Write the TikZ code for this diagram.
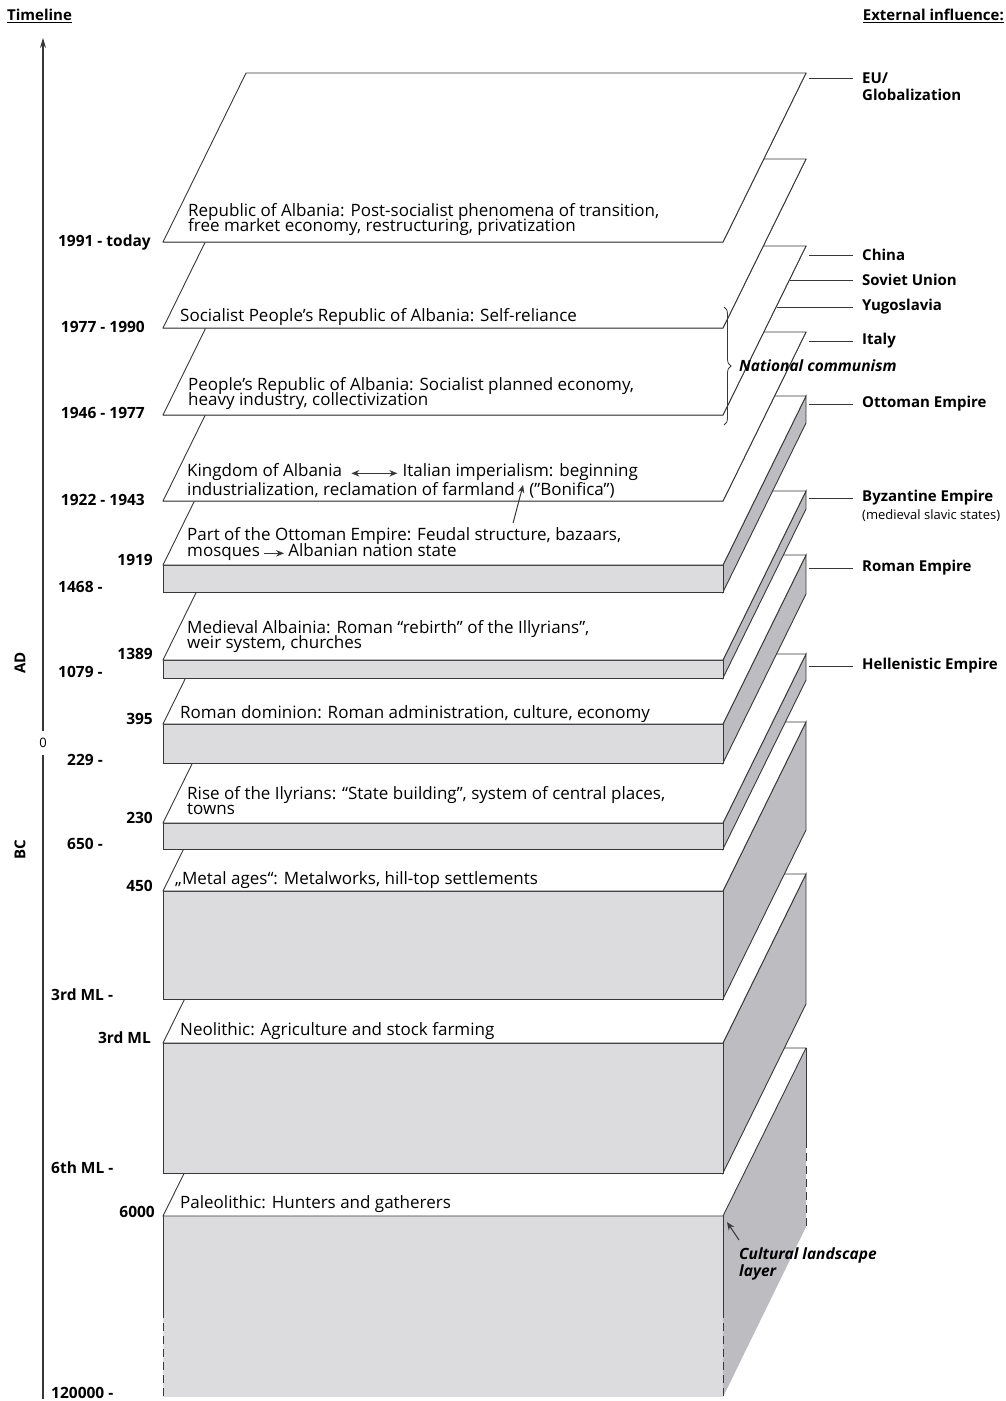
\documentclass[tikz,border=0pt]{standalone}
\usepackage{fontspec}
\setmainfont{Open Sans}
\usetikzlibrary{calc,arrows.meta,decorations.pathreplacing}
\definecolor{linegray}{HTML}{383838}
\definecolor{frontgray}{HTML}{DCDCDE}
\definecolor{sidegray}{HTML}{BDBDC1}
\newcommand{\tightleading}{\lineskiplimit=-\maxdimen\relax}

\begin{document}
\begin{tikzpicture}[x=1pt,y=-1pt]
    % Define the styles for the layers, labels and arrows
    \tikzstyle{edge}=[draw=linegray, line width=0.9pt]
    \tikzstyle{topface}=[edge, fill=white]
    \tikzstyle{frontface}=[edge, fill=frontgray]
    \tikzstyle{sideface}=[edge, fill=sidegray]
    \tikzstyle{cut}=[edge, dash pattern=on 8pt off 5pt]
    \tikzstyle{period}=[anchor=base west, inner sep=0pt, align=left, font=\fontsize{17}{15}\selectfont\tightleading]
    \tikzstyle{year}=[anchor=east, inner sep=0pt, font=\bfseries\fontsize{15.5}{16}\selectfont]
    \tikzstyle{yearstart}=[year, anchor=west]
    \tikzstyle{influence}=[anchor=west, inner xsep=9pt, inner ysep=0pt, font=\bfseries\fontsize{15}{16}\selectfont]
    \tikzstyle{link}=[draw=linegray, line width=0.9pt]
    \tikzstyle{arrow}=[draw=linegray, line width=1pt, ->, >={Stealth[length=8pt,width=6.5pt]}]
    \tikzstyle{remark}=[anchor=base west, inner sep=0pt, align=left, font=\bfseries\itshape\fontsize{15.5}{16.5}\selectfont\tightleading]

    \useasboundingbox (0,0) rectangle (1006,1401);

    % Draw the paleolithic layer, open at the bottom
    \coordinate (paleo-fl) at (163,1216);
    \coordinate (paleo-fr) at (723,1216);
    \coordinate (paleo-br) at (806,1048);
    \coordinate (paleo-bl) at (246,1048);
    \fill[sidegray] (paleo-fr) -- (paleo-br) -- (806,1227) -- (723,1397) -- cycle;
    \fill[frontgray] (paleo-fl) rectangle (723,1397);
    \draw[edge] (806,1140) -- (paleo-br);
    \draw[cut] (806,1140) -- (806,1227);
    \draw[edge] (163,1310) -- (paleo-fl);
    \draw[edge] (723,1310) -- (paleo-fr);
    \draw[cut] (163,1310) -- (163,1397);
    \draw[cut] (723,1310) -- (723,1397);
    \draw[topface] (paleo-fl) -- (paleo-fr) -- (paleo-br) -- (paleo-bl) -- cycle;

    % Draw the other layers from bottom to top
    \foreach \id/\yf/\t in {neo/1043/130, metal/891/108, illyr/823/26, roman/724/39,
        medieval/660/18, ottoman/565/27, kingdom/501/0, peoples/415/0,
        socialist/328/0, republic/242/0} {
        \coordinate (\id-fl) at (163,\yf);
        \coordinate (\id-fr) at (723,\yf);
        \coordinate (\id-br) at (806,\yf-169);
        \coordinate (\id-bl) at (246,\yf-169);
        \path[sideface] (\id-fr) -- (\id-br) -- ++(0,\t) -- ++(-83,169) -- cycle;
        \path[frontface] (\id-fl) rectangle ++(560,\t);
        \path[topface] (\id-fl) -- (\id-fr) -- (\id-br) -- (\id-bl) -- cycle;
    }

    % Texts on the layers
    \node[period] (republic) at (188,231) {Republic of Albania: Post-socialist phenomena of transition,\\free market economy, restructuring, privatization};
    \node[period] (socialist) at (180,321) {Socialist People’s Republic of Albania: Self-reliance};
    \node[period] (peoples) at (188,405) {People’s Republic of Albania: Socialist planned economy,\\heavy industry, collectivization};
    \node[period] (kingdom-a) at (187,476) {Kingdom of Albania};
    \node[period] (kingdom-b) at ([xshift=60pt]kingdom-a.base east) {Italian imperialism: beginning};
    \node[period] (kingdom-c) at (187,495) {industrialization, reclamation of farmland};
    \node[period] (bonifica) at ([xshift=14pt]kingdom-c.base east) {(”Bonifica”)};
    \node[period] (ottoman-a) at (187,540) {Part of the Ottoman Empire: Feudal structure, bazaars,};
    \node[period] (ottoman-b) at (187,556) {mosques};
    \node[period] (ottoman-c) at ([xshift=28pt]ottoman-b.base east) {Albanian nation state};
    \node[period] (medieval) at (187,648) {Medieval Albainia: Roman “rebirth” of the Illyrians”,\\weir system, churches};
    \node[period] (roman) at (180,718) {Roman dominion: Roman administration, culture, economy};
    \node[period] (illyr) at (187,814) {Rise of the Ilyrians: “State building”, system of central places,\\towns};
    \node[period] (metal) at (175,884) {„Metal ages“: Metalworks, hill-top settlements};
    \node[period] (neo) at (180,1035) {Neolithic: Agriculture and stock farming};
    \node[period] (paleo) at (180,1208) {Paleolithic: Hunters and gatherers};

    % Draw the arrows inside the texts
    \coordinate (bonifica-head) at ([xshift=8pt,yshift=10pt]kingdom-c.base east);
    \coordinate (bonifica-tail) at ([xshift=-2pt,yshift=-28pt]kingdom-c.base east);
    \draw[arrow, <->] ([xshift=9pt]kingdom-a.mid east) -- ([xshift=-5pt]kingdom-b.mid west);
    \draw[arrow] ([xshift=4pt]ottoman-b.mid east) -- ([xshift=-4pt]ottoman-c.mid west);
    \draw[arrow] (bonifica-tail) -- (bonifica-head);

    % Draw the timeline
    \node[anchor=west, inner sep=0pt, font=\bfseries\fontsize{15}{16}\selectfont] (timeline) at (7,16) {\underline{Timeline}};
    \node[inner sep=7pt, font=\fontsize{13}{13}\selectfont] (zero) at (43,743) {0};
    \coordinate (axis-top) at (43,38);
    \coordinate (axis-bottom) at (43,1399);
    \draw[linegray, line width=1.1pt] (axis-bottom) -- (zero.south);
    \draw[linegray, line width=1.1pt, -{Stealth[length=10pt,width=6pt]}] (zero.north) -- (axis-top);
    \node[rotate=90, inner sep=0pt, font=\bfseries\fontsize{15}{16}\selectfont] (ad) at (20,663) {AD};
    \node[rotate=90, inner sep=0pt, font=\bfseries\fontsize{15}{16}\selectfont] (bc) at (20,850) {BC};

    % Dates of the layers
    \node[year] (y-republic) at (151,242) {1991 - today};
    \node[year] (y-socialist) at (145,327) {1977 - 1990};
    \node[year] (y-peoples) at (145,413) {1946 - 1977};
    \node[year] (y-kingdom) at (145,500) {1922 - 1943};
    \node[year] (y-ottoman) at (153,560) {1919};
    \node[yearstart] (s-ottoman) at (58,587) {1468 -};
    \node[year] (y-medieval) at (153,654) {1389};
    \node[yearstart] (s-medieval) at (58,672) {1079 -};
    \node[year] (y-roman) at (153,719) {395};
    \node[yearstart] (s-roman) at (67,760) {229 -};
    \node[year] (y-illyr) at (153,818) {230};
    \node[yearstart] (s-illyr) at (67,844) {650 -};
    \node[year] (y-metal) at (153,886) {450};
    \node[yearstart] (s-metal) at (51,995) {3rd ML -};
    \node[year] (y-neo) at (151,1038) {3rd ML};
    \node[yearstart] (s-neo) at (51,1168) {6th ML -};
    \node[year] (y-paleo) at (155,1212) {6000};
    \node[yearstart] (s-paleo) at (51,1393) {120000 -};

    % External influences
    \node[anchor=east, inner sep=0pt, font=\bfseries\fontsize{15}{16}\selectfont] (external) at (1004,16) {\underline{External influence:}};
    \node[influence] (eu) at (853,78) {EU/};
    \node[influence] (globalization) at (853,95) {Globalization};
    \node[influence] (china) at (853,255) {China};
    \node[influence] (soviet) at (853,280) {Soviet Union};
    \node[influence] (yugoslavia) at (853,307) {Yugoslavia};
    \node[influence] (italy) at (853,341) {Italy};
    \node[influence] (ottoman) at (853,404) {Ottoman Empire};
    \node[influence] (byzantine) at (853,498) {Byzantine Empire};
    \node[influence, font=\fontsize{13}{13}\selectfont] (slavic) at (853,516) {(medieval slavic states)};
    \node[influence] (romanemp) at (853,568) {Roman Empire};
    \node[influence] (hellenistic) at (853,666) {Hellenistic Empire};

    \coordinate (soviet-start) at ($(peoples-br)!0.19!(peoples-fr)$);
    \coordinate (yugoslavia-start) at ($(peoples-br)!0.35!(peoples-fr)$);
    \draw[link] (eu.west) -- ([xshift=3pt]eu.west -| republic-br);
    \draw[link] (china.west) -- ([xshift=3pt]china.west -| peoples-br);
    \draw[link] (soviet.west) -- (soviet.west -| soviet-start);
    \draw[link] (yugoslavia.west) -- (yugoslavia.west -| yugoslavia-start);
    \draw[link] (italy.west) -- ([xshift=3pt]italy.west -| kingdom-br);
    \draw[link] (ottoman.west) -- ([xshift=3pt]ottoman.west -| ottoman-br);
    \draw[link] (byzantine.west) -- ([xshift=3pt]byzantine.west -| medieval-br);
    \draw[link] (romanemp.west) -- ([xshift=3pt]romanemp.west -| roman-br);
    \draw[link] (hellenistic.west) -- ([xshift=3pt]hellenistic.west -| illyr-br);

    % National communism brace
    \coordinate (brace-top) at (724,307);
    \coordinate (brace-bottom) at (724,425);
    \draw[linegray, line width=0.8pt, decorate, decoration={brace, amplitude=7pt}] (brace-top) -- (brace-bottom);
    \node[remark, anchor=west] (communism) at (739,366) {National communism};

    % Cultural landscape layer
    \node[remark] (cultural) at (739,1276) {Cultural landscape\\layer};
    \coordinate (cultural-tail) at (739,1240);
    \draw[arrow] (cultural-tail) -- ([xshift=4pt,yshift=-6pt]paleo-fr);
\end{tikzpicture}
\end{document}
